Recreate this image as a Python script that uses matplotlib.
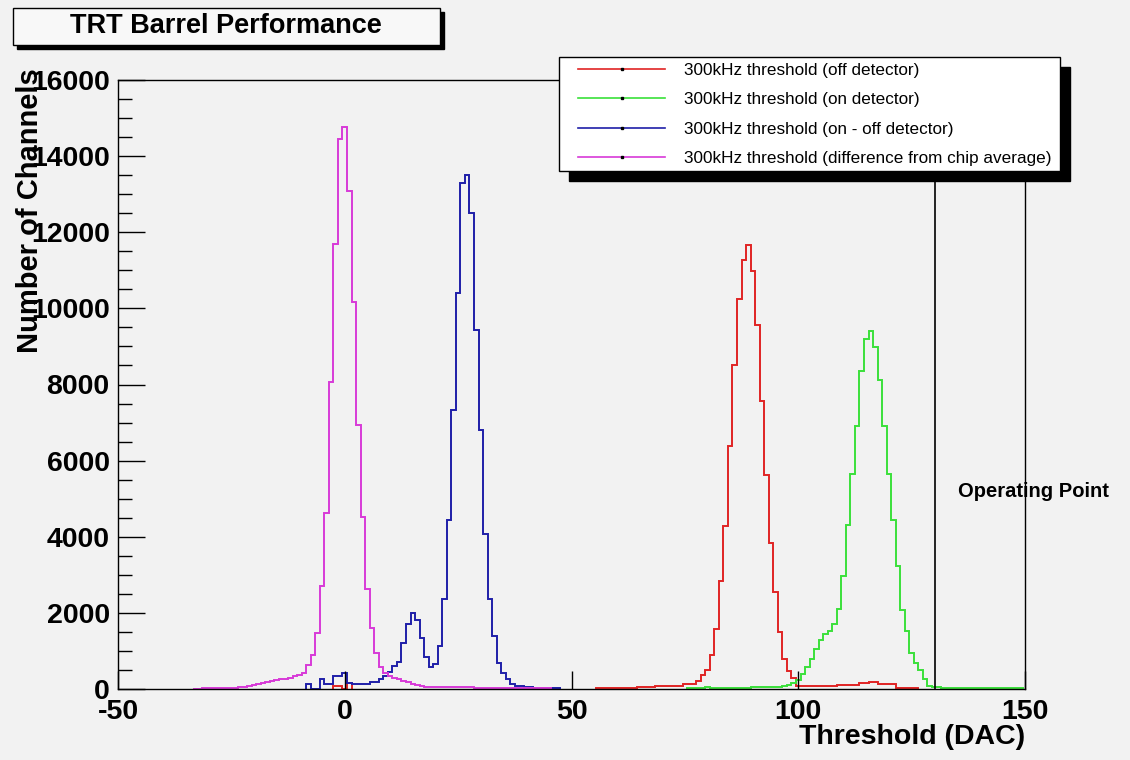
import matplotlib.pyplot as plt
import numpy as np
from matplotlib.lines import Line2D
from matplotlib.patches import Rectangle

plt.rcParams['font.family'] = ['Liberation Sans', 'DejaVu Sans']
plt.rcParams['axes.unicode_minus'] = False

# histogram contents, one bin per DAC count, first bin centre given by *_start
red_start = 56
red_counts = [15, 15, 20, 20, 20, 25, 30, 30, 35, 40,
              40, 50, 60, 70, 70, 70, 70, 70, 80, 120,
              130, 130, 200, 380, 510, 900, 1580, 2850, 4290, 6380,
              8510, 10250, 11280, 11670, 10990, 9570, 7560, 5630, 3840, 2540,
              1490, 790, 460, 290, 70, 70, 70, 70, 70, 70,
              70, 70, 70, 110, 110, 110, 110, 110, 160, 160,
              180, 180, 140, 140, 140, 140, 25, 25, 25, 25, 25]
red_low_start = -2
red_low_counts = [80, 80, 0, 170]

green_start = 76
green_counts = [15, 15, 15, 15, 50, 25, 25, 25, 25, 30,
                30, 30, 30, 30, 45, 45, 45, 45, 45, 45,
                60, 90, 115, 160, 245, 400, 580, 800, 1050, 1300,
                1450, 1520, 1700, 2090, 2960, 4320, 5660, 6920, 8360, 9200,
                9415, 8980, 8130, 6900, 5660, 4450, 3220, 2080, 1520, 950,
                670, 510, 260, 90, 50, 50, 25, 25, 25, 25,
                25, 25, 25, 25, 25, 25, 20, 20, 20, 20,
                20, 20, 20, 20]

blue_start = -8
blue_counts = [130, 10, 10, 250, 130, 130, 340, 340, 410, 170,
               130, 130, 130, 130, 190, 190, 260, 340, 450, 600,
               700, 1220, 1710, 1990, 1800, 1340, 850, 570, 650, 1130,
               2360, 4430, 7320, 10400, 13300, 13510, 12510, 9420, 6810, 4060,
               2370, 1380, 690, 410, 250, 140, 80, 80, 45, 45,
               30, 25, 25, 20, 20, 15]

magenta_start = -33
magenta_counts = [10, 10, 15, 15, 20, 20, 25, 25, 30, 35,
                  45, 60, 80, 100, 130, 160, 190, 210, 230, 250,
                  270, 300, 330, 360, 430, 630, 890, 1460, 2700, 4630,
                  8070, 11690, 14450, 14770, 13080, 10160, 6940, 4510, 2620, 1590,
                  940, 590, 420, 340, 300, 260, 220, 180, 140, 110,
                  80, 60, 45, 45, 45, 45, 45, 45, 45, 45,
                  45, 45, 25, 25, 25, 25, 25, 25, 25, 25,
                  25, 25, 25, 25, 25, 25, 25, 25, 25]

labels = ['300kHz threshold (off detector)',
          '300kHz threshold (on detector)',
          '300kHz threshold (on - off detector)',
          '300kHz threshold (difference from chip average)']
colors = ['#e02424', '#3ae03a', '#1f1fa8', '#d83ad8']
op_point = 130.2

bg = '#f2f2f2'
W, H = 1130, 760


def edges(start, counts):
    return np.arange(len(counts) + 1) + start - 0.5


fig = plt.figure(figsize=(W / 100, H / 100), dpi=100, facecolor=bg)
ax = fig.add_axes([118 / W, 71 / H, 907 / W, 609 / H], facecolor=bg)

ax.stairs(red_low_counts, edges(red_low_start, red_low_counts), color=colors[0], lw=1.4)
ax.stairs(red_counts, edges(red_start, red_counts), color=colors[0], lw=1.4)
ax.stairs(green_counts, edges(green_start, green_counts), color=colors[1], lw=1.4)
ax.stairs(blue_counts, edges(blue_start, blue_counts), color=colors[2], lw=1.4)
ax.stairs(magenta_counts, edges(magenta_start, magenta_counts), color=colors[3], lw=1.4)

ax.axvline(op_point, color='k', lw=1.2)
ax.text(135.2, 5180, 'Operating Point', fontsize=14.5, weight='bold',
        ha='left', va='center', clip_on=False)

ax.set_xlim(-50, 150)
ax.set_ylim(0, 16000)
ax.set_xticks([-50, 0, 50, 100, 150])
ax.set_yticks(np.arange(0, 16001, 2000))
ax.set_yticks(np.arange(0, 16001, 500), minor=True)
ax.tick_params(axis='y', which='major', direction='in', length=19.5, width=1,
               labelsize=20.5, pad=6)
ax.tick_params(axis='y', which='minor', direction='in', length=10, width=1)
ax.tick_params(axis='x', which='major', direction='in', length=13, width=1,
               labelsize=20.5, pad=7)
for lbl in ax.get_xticklabels() + ax.get_yticklabels():
    lbl.set_fontweight('bold')
for sp in ax.spines.values():
    sp.set_linewidth(1)

fig.text(30 / W, 1 - 68 / H, 'Number of Channels', rotation=90, ha='center', va='top',
         fontsize=21, weight='bold')
fig.text(1025 / W, 1 - 737 / H, 'Threshold (DAC)', ha='right', va='center',
         fontsize=20.5, weight='bold')

# title box with shadow
fig.patches.append(Rectangle((17 / W, 1 - 49 / H), 427 / W, 37 / H, transform=fig.transFigure,
                             facecolor='k', edgecolor='k', zorder=3))
fig.patches.append(Rectangle((13 / W, 1 - 45 / H), 427 / W, 37 / H, transform=fig.transFigure,
                             facecolor='#f8f8f8', edgecolor='k', lw=1, zorder=3))
fig.text(226 / W, 1 - 26 / H, 'TRT Barrel Performance', ha='center', va='center',
         fontsize=19.5, weight='bold', zorder=4)

# legend box with shadow
fig.patches.append(Rectangle((569 / W, 1 - 181 / H), 501 / W, 114 / H, transform=fig.transFigure,
                             facecolor='k', edgecolor='k', zorder=3))
fig.patches.append(Rectangle((559 / W, 1 - 171 / H), 501 / W, 114 / H, transform=fig.transFigure,
                             facecolor='white', edgecolor='k', lw=1, zorder=3))
handles = [Line2D([0], [0], color=c, lw=1.2, marker='s', ms=1.5, mfc='k', mec='k')
           for c in colors]
leg = fig.legend(handles, labels, loc='upper left', bbox_to_anchor=(578 / W, 1 - 63 / H),
                 bbox_transform=fig.transFigure, frameon=False, borderpad=0, borderaxespad=0,
                 handlelength=5.1, handletextpad=1.1, labelspacing=0.84, fontsize=12.3)
leg.set_zorder(4)

fig.savefig('out.png', dpi=100, facecolor=bg)
